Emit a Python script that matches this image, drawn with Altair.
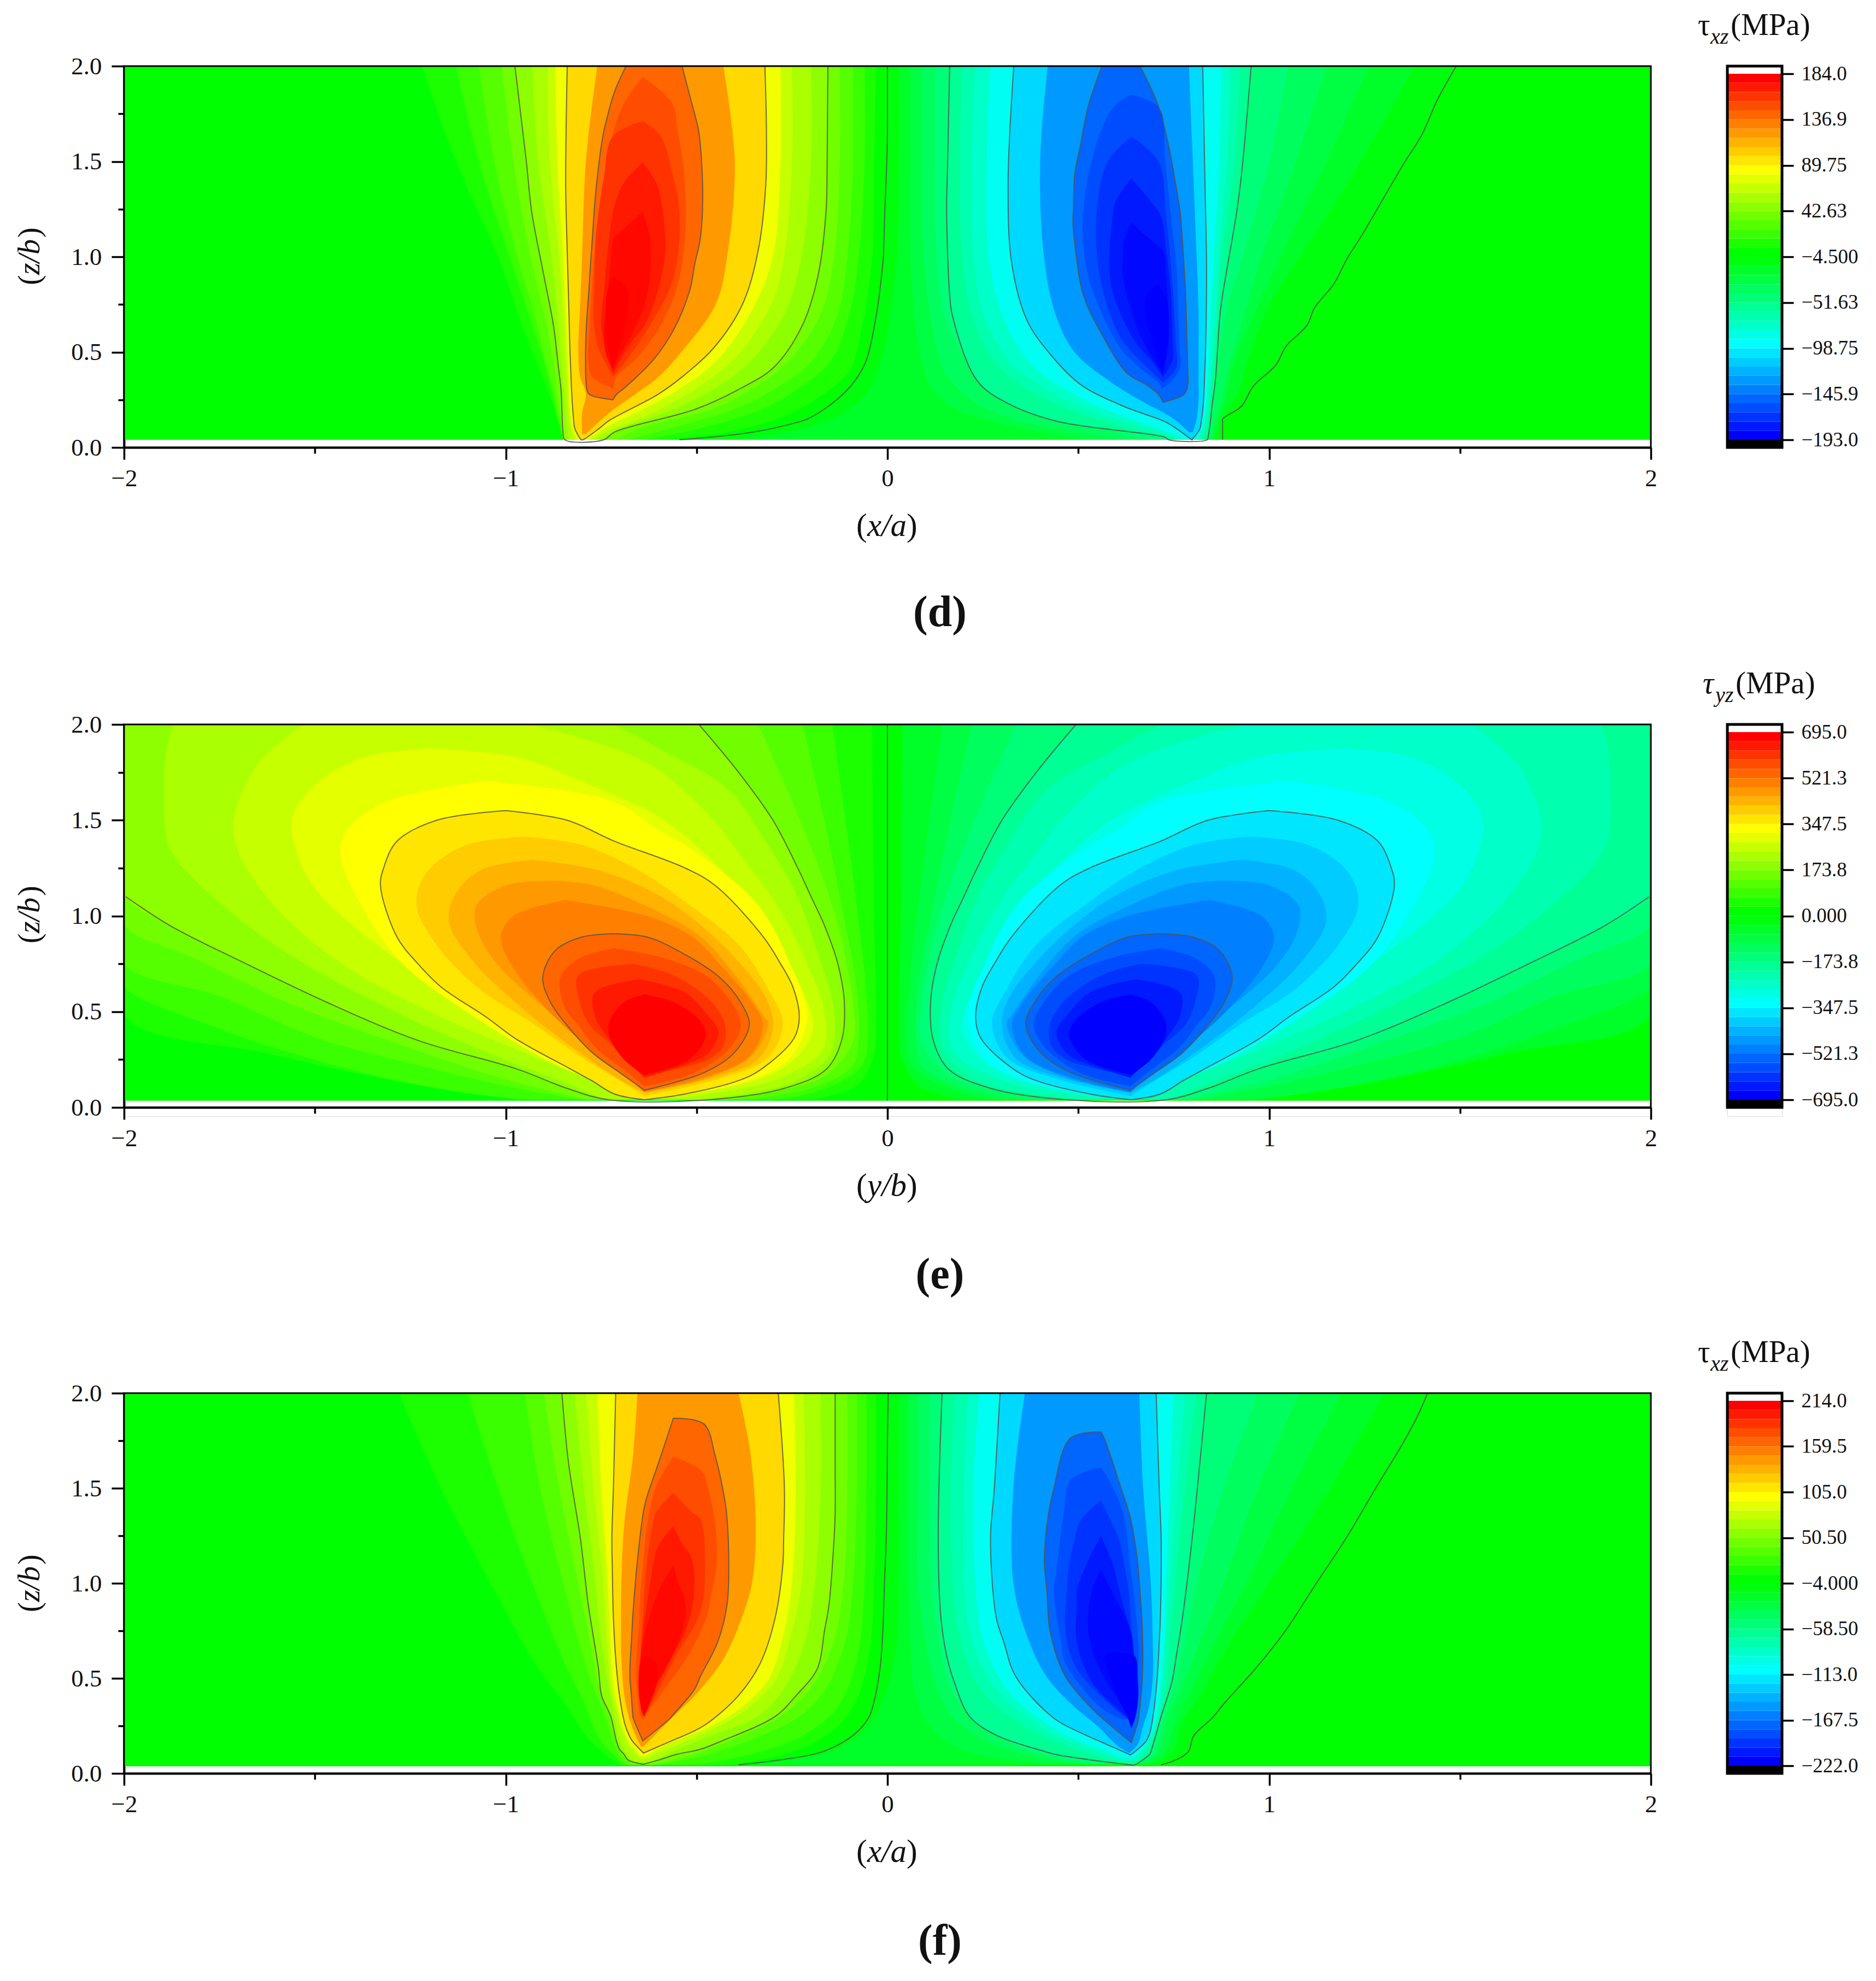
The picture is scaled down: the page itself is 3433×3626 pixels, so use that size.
import altair as alt
import pandas as pd

FONT = "Liberation Serif"

# ---------- tick labels of the three colour bars ----------
d_bar_vals = [184.0, 136.9, 89.75, 42.63, -4.5, -51.63, -98.75, -145.9, -193.0]
d_bar_text = ["184.0", "136.9", "89.75", "42.63", "\u22124.500", "\u221251.63", "\u221298.75", "\u2212145.9", "\u2212193.0"]
e_bar_vals = [695.0, 521.3, 347.5, 173.8, 0.0, -173.8, -347.5, -521.3, -695.0]
e_bar_text = ["695.0", "521.3", "347.5", "173.8", "0.000", "\u2212173.8", "\u2212347.5", "\u2212521.3", "\u2212695.0"]
f_bar_vals = [214.0, 159.5, 105.0, 50.5, -4.0, -58.5, -113.0, -167.5, -222.0]
f_bar_text = ["214.0", "159.5", "105.0", "50.50", "\u22124.000", "\u221258.50", "\u2212113.0", "\u2212167.5", "\u2212222.0"]

x_ticks = [-2, -1.5, -1, -0.5, 0, 0.5, 1, 1.5, 2]
z_ticks = [0, 0.25, 0.5, 0.75, 1, 1.25, 1.5, 1.75, 2]

# ---------- contour rows: (z, left x, right x) ----------
# panel (d), positive lobe
d_p01 = [(2,-1.22,-.03),(1.5,-1.13,-.035),(1,-1.02,-.04),(.6,-.95,-.07),(.4,-.91,-.1),(.25,-.88,-.19),(.15,-.865,-.29),(.08,-.855,-.42),(.04,-.85,-.6)]
d_p02 = [(2,-1.13,-.06),(1.5,-1.07,-.06),(1,-.99,-.075),(.7,-.94,-.1),(.45,-.9,-.15),(.3,-.88,-.24),(.2,-.87,-.33),(.1,-.857,-.49),(.04,-.85,-.64)]
d_p03 = [(2,-1.07,-.09),(1.5,-1.03,-.09),(1,-.97,-.105),(.7,-.925,-.13),(.45,-.895,-.2),(.3,-.875,-.3),(.2,-.865,-.4),(.1,-.855,-.57),(.04,-.85,-.68)]
d_p04 = [(2,-1.01,-.125),(1.5,-.98,-.125),(1,-.935,-.14),(.7,-.9,-.175),(.45,-.875,-.26),(.3,-.865,-.36),(.2,-.858,-.46),(.1,-.853,-.65),(.04,-.848,-.71)]
d_p05 = [(2,-.976,-.156),(1.75,-.961,-.157),(1.5,-.946,-.158),(1.236,-.932,-.161),(.9,-.9,-.182),(.64,-.875,-.223),(.42,-.862,-.298),(.3,-.855,-.394),(.2,-.853,-.504),(.08,-.85,-.716),(.04,-.845,-.743)]
d_p06 = [(2,-.93,-.2),(1.5,-.915,-.2),(1,-.88,-.225),(.7,-.865,-.27),(.45,-.855,-.36),(.3,-.848,-.46),(.2,-.845,-.56),(.1,-.84,-.7),(.04,-.835,-.755)]
d_p07 = [(2,-.89,-.25),(1.5,-.885,-.25),(1,-.86,-.27),(.75,-.852,-.305),(.5,-.845,-.385),(.35,-.84,-.47),(.25,-.838,-.55),(.15,-.834,-.65),(.08,-.828,-.74),(.04,-.82,-.77)]
d_p08 = [(2,-.87,-.28),(1.5,-.865,-.28),(1,-.85,-.3),(.7,-.843,-.36),(.45,-.838,-.45),(.3,-.835,-.55),(.2,-.832,-.64),(.1,-.825,-.74),(.04,-.812,-.785)]
d_p10 = [(2,-.839,-.321),(1.65,-.842,-.317),(1.37,-.843,-.319),(1.03,-.839,-.339),(.75,-.835,-.38),(.52,-.832,-.456),(.37,-.829,-.538),(.28,-.827,-.6),(.14,-.822,-.73),(.1,-.819,-.755),(.04,-.802,-.798)]
d_p12 = [(2,-.76,-.43),(1.5,-.79,-.40),(1,-.80,-.42),(.75,-.805,-.45),(.5,-.81,-.54),(.37,-.805,-.6),(.28,-.79,-.66),(.18,-.8,-.73),(.07,-.8,-.79)]
d_p15 = [(2,-.685,-.538),(1.86,-.716,-.52),(1.71,-.737,-.5),(1.64,-.745,-.493),(1.345,-.764,-.484),(1.1,-.773,-.49),(.96,-.778,-.505),(.83,-.782,-.517),(.625,-.789,-.558),(.46,-.791,-.613),(.31,-.788,-.69),(.278,-.781,-.71),(.25,-.719,-.719)]
d_p16 = [(1.943,-.641,-.641),(1.81,-.689,-.565),(1.67,-.716,-.55),(1.48,-.737,-.535),(1.24,-.757,-.528),(.96,-.77,-.538),(.76,-.777,-.565),(.58,-.782,-.613),(.46,-.784,-.661),(.37,-.774,-.71),(.31,-.719,-.719)]
d_p17 = [(1.712,-.641,-.641),(1.63,-.72,-.593),(1.41,-.743,-.56),(1.3,-.752,-.548),(1.1,-.764,-.545),(.86,-.768,-.565),(.67,-.77,-.613),(.52,-.757,-.661),(.37,-.719,-.719)]
d_p18 = [(1.494,-.641,-.641),(1.39,-.69,-.606),(1.26,-.716,-.59),(1.03,-.733,-.582),(.83,-.742,-.6),(.65,-.75,-.634),(.54,-.742,-.675),(.39,-.719,-.719)]
d_p19 = [(1.236,-.641,-.641),(1.13,-.7,-.624),(1.09,-.719,-.622),(.96,-.725,-.62),(.76,-.736,-.634),(.6,-.743,-.668),(.48,-.736,-.702),(.41,-.719,-.719)]
d_p20 = [(.896,-.719,-.719),(.83,-.733,-.682),(.69,-.738,-.682),(.53,-.733,-.702),(.42,-.719,-.719)]
# panel (d), negative lobe
d_n00 = [(2,0,1.49),(1.82,0,1.44),(1.64,0,1.4),(1.48,-.002,1.35),(1.236,-.007,1.279),(1.1,-.009,1.239),(.99,-.011,1.204),(.856,-.018,1.169),(.733,-.026,1.119),(.64,-.034,1.099),(.53,-.045,1.044),(.434,-.06,1.018),(.32,-.097,.958),(.217,-.154,.928),(.149,-.21,.878),(.135,-.23,.878),(.08,-.353,.878),(.04,-.545,.878)]
d_n01 = [(2,.03,1.38),(1.5,.03,1.24),(1,.025,1.08),(.75,.01,1.0),(.5,-.01,.95),(.3,-.05,.92),(.2,-.1,.89),(.1,-.22,.87),(.04,-.4,.865)]
d_n02 = [(2,.06,1.26),(1.5,.06,1.15),(1,.06,1.03),(.7,.07,.96),(.45,.09,.91),(.3,.12,.89),(.2,.18,.875),(.1,.35,.86),(.04,.52,.855)]
d_n03 = [(2,.09,1.15),(1.5,.09,1.07),(1,.095,.98),(.6,.12,.92),(.4,.15,.89),(.25,.22,.875),(.15,.33,.86),(.08,.5,.85),(.04,.62,.845)]
d_n04 = [(2,.125,1.05),(1.5,.125,1.0),(1,.13,.93),(.7,.15,.885),(.45,.21,.865),(.3,.27,.855),(.2,.36,.85),(.1,.56,.845),(.04,.68,.84)]
d_n05 = [(2,.163,.953),(1.44,.157,.928),(1.236,.155,.915),(.8,.163,.878),(.693,.17,.871),(.35,.235,.859),(.23,.316,.851),(.136,.446,.846),(.054,.727,.84),(.04,.737,.838)]
d_n06 = [(2,.195,.925),(1.5,.19,.91),(1,.195,.875),(.7,.22,.865),(.45,.28,.855),(.3,.37,.848),(.2,.47,.843),(.1,.63,.835),(.04,.755,.825)]
d_n07 = [(2,.23,.9),(1.5,.22,.89),(1,.225,.87),(.7,.25,.86),(.45,.32,.85),(.3,.42,.843),(.2,.52,.838),(.1,.68,.83),(.04,.77,.815)]
d_n08 = [(2,.27,.875),(1.5,.26,.87),(1,.265,.855),(.7,.3,.848),(.45,.37,.842),(.3,.47,.838),(.2,.57,.833),(.1,.71,.825),(.04,.785,.805)]
d_n10 = [(2,.331,.826),(1.37,.316,.832),(.96,.326,.836),(.665,.366,.835),(.49,.426,.833),(.33,.506,.83),(.217,.617,.827),(.135,.727,.822),(.095,.76,.818),(.04,.797,.797)]
d_n12 = [(2,.42,.79),(1.5,.40,.8),(1,.41,.81),(.7,.44,.815),(.5,.49,.815),(.35,.58,.815),(.25,.66,.815),(.15,.75,.81),(.08,.79,.80)]
d_n15 = [(2,.562,.662),(1.79,.526,.71),(1.58,.505,.737),(1.44,.491,.75),(1.236,.487,.767),(1.17,.486,.77),(.856,.506,.78),(.76,.52,.782),(.61,.557,.784),(.39,.627,.787),(.326,.68,.787),(.278,.71,.777),(.237,.722,.722)]
d_n16 = [(1.85,.639,.639),(1.78,.59,.712),(1.51,.536,.727),(1.17,.511,.745),(.96,.52,.757),(.83,.536,.76),(.53,.607,.765),(.42,.66,.767),(.34,.71,.74),(.31,.72,.72)]
d_n17 = [(1.63,.639,.639),(1.5,.577,.71),(1.21,.547,.73),(.9,.556,.745),(.69,.585,.752),(.557,.617,.755),(.42,.68,.757),(.34,.722,.722)]
d_n18 = [(1.41,.639,.639),(1.29,.597,.69),(1.21,.59,.717),(1.03,.582,.73),(.83,.588,.742),(.56,.647,.747),(.46,.69,.747),(.37,.722,.722)]
d_n19 = [(1.18,.639,.639),(1.07,.617,.7),(1.03,.617,.722),(.9,.617,.73),(.665,.647,.737),(.557,.67,.737),(.38,.722,.722)]
d_n20 = [(.856,.707,.707),(.79,.677,.73),(.69,.677,.737),(.52,.7,.732),(.39,.722,.722)]

# panel (e), positive lobe
e_p01 = [(2,-2,-.04),(1,-2,-.035),(.48,-2,-.03),(.28,-1.62,-.035),(.115,-1.23,-.08),(.04,-.97,-.2)]
e_p02 = [(2,-2,-.144),(1.2,-2,-.09),(.7,-2,-.06),(.63,-2,-.058),(.41,-1.75,-.05),(.21,-1.43,-.07),(.074,-1.1,-.2),(.04,-.92,-.3)]
e_p03 = [(2,-2,-.222),(1.5,-2,-.165),(1,-2,-.115),(.75,-2,-.09),(.58,-1.75,-.078),(.36,-1.49,-.075),(.22,-1.23,-.09),(.1,-.97,-.2),(.04,-.8,-.38)]
e_p04 = [(2,-2,-.339),(1.6,-2,-.25),(1.2,-2,-.17),(.955,-2,-.13),(.78,-1.817,-.11),(.535,-1.558,-.09),(.345,-1.3,-.09),(.17,-1.04,-.16),(.08,-.87,-.3),(.04,-.78,-.42)]
e_p05 = [(2,-2,-.494),(1.75,-2,-.39),(1.5,-2,-.30),(1.25,-2,-.235),(1.1,-1.995,-.20),(.95,-1.88,-.165),(.75,-1.68,-.13),(.55,-1.47,-.113),(.35,-1.23,-.12),(.2,-.97,-.16),(.1,-.84,-.27),(.04,-.73,-.47)]
e_p06 = [(2,-1.87,-.715),(1.86,-1.89,-.585),(1.66,-1.895,-.417),(1.36,-1.882,-.31),(1.12,-1.778,-.24),(.82,-1.584,-.185),(.51,-1.3,-.14),(.28,-1.04,-.15),(.13,-.845,-.25),(.04,-.74,-.5)]
e_p07 = [(2,-1.53,-.935),(1.8,-1.648,-.63),(1.5,-1.713,-.455),(1.33,-1.70,-.39),(1.06,-1.61,-.29),(.75,-1.43,-.21),(.5,-1.2,-.165),(.3,-.97,-.17),(.14,-.77,-.3),(.05,-.66,-.55)]
e_p08 = [(1.875,-1.2,-1.2),(1.83,-1.37,-.974),(1.685,-1.5,-.78),(1.5,-1.56,-.585),(1.2,-1.519,-.415),(.95,-1.4,-.313),(.62,-1.17,-.225),(.41,-.99,-.195),(.24,-.82,-.25),(.13,-.74,-.365),(.05,-.66,-.6)]
e_p09 = [(1.705,-1.05,-1.05),(1.6,-1.31,-.72),(1.45,-1.415,-.6),(1.33,-1.434,-.5),(1.06,-1.38,-.34),(.75,-1.27,-.255),(.47,-1.08,-.21),(.25,-.895,-.26),(.13,-.76,-.38),(.05,-.67,-.58)]
e_p10 = [(1.55,-1.0,-1.0),(1.5,-1.18,-.84),(1.39,-1.285,-.715),(1.25,-1.32,-.53),(1.157,-1.328,-.45),(.89,-1.285,-.325),(.75,-1.23,-.28),(.63,-1.17,-.248),(.47,-1.05,-.231),(.36,-.975,-.245),(.2,-.83,-.33),(.14,-.775,-.39),(.07,-.715,-.53),(.04,-.637,-.637)]
e_p11 = [(1.414,-.948,-.948),(1.37,-1.104,-.8),(1.225,-1.208,-.64),(1.06,-1.234,-.52),(.85,-1.182,-.39),(.62,-1.07,-.313),(.44,-.93,-.274),(.26,-.8,-.313),(.156,-.715,-.43),(.06,-.637,-.637)]
e_p12 = [(1.293,-.93,-.93),(1.24,-1.065,-.76),(1.12,-1.13,-.61),(.97,-1.149,-.50),(.75,-1.08,-.385),(.55,-.975,-.313),(.41,-.89,-.30),(.25,-.78,-.34),(.156,-.71,-.456),(.075,-.637,-.637)]
e_p13 = [(1.184,-.87,-.87),(1.16,-1.0,-.77),(1.05,-1.078,-.63),(.9,-1.07,-.494),(.72,-1.01,-.41),(.48,-.87,-.325),(.44,-.84,-.313),(.277,-.75,-.352),(.156,-.68,-.469),(.08,-.637,-.637)]
e_p14 = [(1.083,-.844,-.844),(1.0,-.98,-.63),(.89,-1.013,-.51),(.75,-.987,-.44),(.55,-.91,-.355),(.43,-.85,-.326),(.26,-.75,-.365),(.156,-.68,-.482),(.08,-.637,-.637)]
e_p15 = [(.907,-.722,-.722),(.89,-.80,-.63),(.82,-.87,-.55),(.68,-.903,-.44),(.55,-.883,-.385),(.43,-.84,-.362),(.28,-.77,-.404),(.18,-.70,-.482),(.09,-.637,-.637)]
e_p16 = [(.832,-.715,-.715),(.78,-.806,-.585),(.68,-.857,-.47),(.52,-.845,-.4),(.43,-.81,-.384),(.318,-.767,-.41),(.18,-.68,-.507),(.11,-.637,-.637)]
e_p17 = [(.75,-.663,-.663),(.69,-.81,-.56),(.55,-.806,-.46),(.43,-.78,-.425),(.32,-.72,-.43),(.25,-.69,-.47),(.165,-.637,-.637)]
e_p18 = [(.67,-.65,-.65),(.6,-.767,-.53),(.48,-.767,-.47),(.4,-.745,-.443),(.32,-.715,-.455),(.264,-.69,-.482),(.155,-.637,-.637)]
e_p19 = [(.59,-.637,-.637),(.55,-.69,-.56),(.45,-.728,-.49),(.37,-.728,-.476),(.25,-.69,-.52),(.17,-.637,-.637)]
# panel (e), negative lobe
e_n01 = [(2,.04,2),(1,.035,2),(.48,.03,2),(.28,.035,1.62),(.115,.08,1.23),(.04,.2,.97)]
e_n02 = [(2,.144,2),(1.2,.09,2),(.7,.06,2),(.63,.058,2),(.41,.05,1.75),(.21,.07,1.43),(.074,.2,1.1),(.04,.3,.92)]
e_n03 = [(2,.222,2),(1.5,.165,2),(1,.115,2),(.75,.09,2),(.58,.078,1.75),(.36,.075,1.49),(.22,.09,1.23),(.1,.2,.97),(.04,.38,.8)]
e_n04 = [(2,.339,2),(1.6,.25,2),(1.2,.17,2),(.955,.13,2),(.78,.11,1.817),(.535,.09,1.558),(.345,.09,1.3),(.17,.16,1.04),(.08,.3,.87),(.04,.42,.78)]
e_n05 = [(2,.494,2),(1.75,.39,2),(1.5,.30,2),(1.25,.235,2),(1.1,.20,1.995),(.95,.165,1.88),(.75,.13,1.68),(.55,.113,1.47),(.35,.12,1.23),(.2,.16,.97),(.1,.27,.84),(.04,.47,.73)]
e_n06 = [(2,.715,1.87),(1.86,.585,1.89),(1.66,.417,1.895),(1.36,.31,1.882),(1.12,.24,1.778),(.82,.185,1.584),(.51,.14,1.3),(.28,.15,1.04),(.13,.25,.845),(.04,.5,.74)]
e_n07 = [(2,.935,1.53),(1.8,.63,1.648),(1.5,.455,1.713),(1.33,.39,1.70),(1.06,.29,1.61),(.75,.21,1.43),(.5,.165,1.2),(.3,.17,.97),(.14,.3,.77),(.05,.55,.66)]
e_n08 = [(1.875,1.2,1.2),(1.83,.974,1.37),(1.685,.78,1.5),(1.5,.585,1.56),(1.2,.415,1.519),(.95,.313,1.4),(.62,.225,1.17),(.41,.195,.99),(.24,.25,.82),(.13,.365,.74),(.05,.6,.66)]
e_n09 = [(1.705,1.05,1.05),(1.6,.72,1.31),(1.45,.6,1.415),(1.33,.5,1.434),(1.06,.34,1.38),(.75,.255,1.27),(.47,.21,1.08),(.25,.26,.895),(.13,.38,.76),(.05,.58,.67)]
e_n10 = [(1.55,1.0,1.0),(1.5,.84,1.18),(1.39,.715,1.285),(1.25,.53,1.32),(1.157,.45,1.328),(.89,.325,1.285),(.75,.28,1.23),(.63,.248,1.17),(.47,.231,1.05),(.36,.245,.975),(.2,.33,.83),(.14,.39,.775),(.07,.53,.715),(.04,.637,.637)]
e_n11 = [(1.414,.948,.948),(1.37,.8,1.104),(1.225,.64,1.208),(1.06,.52,1.234),(.85,.39,1.182),(.62,.313,1.07),(.44,.274,.93),(.26,.313,.8),(.156,.43,.715),(.06,.637,.637)]
e_n12 = [(1.293,.93,.93),(1.24,.76,1.065),(1.12,.61,1.13),(.97,.50,1.149),(.75,.385,1.08),(.55,.313,.975),(.41,.30,.89),(.25,.34,.78),(.156,.456,.71),(.075,.637,.637)]
e_n13 = [(1.184,.87,.87),(1.16,.77,1.0),(1.05,.63,1.078),(.9,.494,1.07),(.72,.41,1.01),(.48,.325,.87),(.44,.313,.84),(.277,.352,.75),(.156,.469,.68),(.08,.637,.637)]
e_n14 = [(1.083,.844,.844),(1.0,.63,.98),(.89,.51,1.013),(.75,.44,.987),(.55,.355,.91),(.43,.326,.85),(.26,.365,.75),(.156,.482,.68),(.08,.637,.637)]
e_n15 = [(.907,.722,.722),(.89,.63,.80),(.82,.55,.87),(.68,.44,.903),(.55,.385,.883),(.43,.362,.84),(.28,.404,.77),(.18,.482,.70),(.09,.637,.637)]
e_n16 = [(.832,.715,.715),(.78,.585,.806),(.68,.47,.857),(.52,.4,.845),(.43,.384,.81),(.318,.41,.767),(.18,.507,.68),(.11,.637,.637)]
e_n17 = [(.75,.663,.663),(.69,.56,.81),(.55,.46,.806),(.43,.425,.78),(.32,.43,.72),(.25,.47,.69),(.165,.637,.637)]
e_n18 = [(.67,.65,.65),(.6,.53,.767),(.48,.47,.767),(.4,.443,.745),(.32,.455,.715),(.264,.482,.69),(.155,.637,.637)]
e_n19 = [(.59,.637,.637),(.55,.56,.69),(.45,.49,.728),(.37,.476,.728),(.25,.52,.69),(.17,.637,.637)]
e_zero = [(2,0,0),(.035,0,0)]

# panel (f), positive lobe
f_p01 = [(2,-1.28,-.03),(1.5,-1.17,-.03),(1,-1.04,-.035),(.6,-.93,-.05),(.35,-.84,-.09),(.2,-.79,-.16),(.1,-.74,-.27),(.045,-.7,-.42)]
f_p02 = [(2,-1.1,-.055),(1.5,-1.02,-.055),(1,-.93,-.06),(.6,-.85,-.08),(.35,-.79,-.13),(.2,-.76,-.22),(.1,-.72,-.36),(.045,-.69,-.5)]
f_p03 = [(2,-.95,-.08),(1.5,-.91,-.08),(1,-.85,-.09),(.7,-.81,-.11),(.45,-.77,-.16),(.3,-.74,-.23),(.2,-.725,-.33),(.1,-.705,-.47),(.045,-.68,-.6)]
f_p04 = [(2,-.9,-.105),(1.5,-.86,-.105),(1,-.81,-.115),(.7,-.78,-.14),(.45,-.755,-.2),(.3,-.73,-.28),(.2,-.715,-.38),(.1,-.695,-.51),(.045,-.665,-.62)]
f_p05 = [(2,-.853,-.137),(1.64,-.836,-.137),(1.37,-.815,-.137),(1.23,-.804,-.14),(.89,-.784,-.153),(.75,-.773,-.165),(.55,-.757,-.184),(.41,-.749,-.239),(.3,-.725,-.294),(.17,-.71,-.435),(.127,-.702,-.49),(.1,-.69,-.553),(.07,-.679,-.6),(.048,-.639,-.639)]
f_p06 = [(2,-.82,-.175),(1.5,-.795,-.175),(1,-.765,-.19),(.7,-.75,-.215),(.45,-.73,-.27),(.3,-.715,-.34),(.2,-.705,-.46),(.1,-.683,-.58),(.06,-.66,-.62)]
f_p07 = [(2,-.79,-.22),(1.5,-.77,-.215),(1,-.745,-.225),(.75,-.737,-.25),(.5,-.727,-.29),(.35,-.713,-.36),(.25,-.7,-.44),(.15,-.68,-.55),(.08,-.65,-.63)]
f_p08 = [(2,-.76,-.245),(1.5,-.75,-.24),(1,-.733,-.25),(.75,-.727,-.27),(.5,-.72,-.31),(.35,-.708,-.38),(.25,-.695,-.46),(.15,-.672,-.58),(.09,-.645,-.635)]
f_p10 = [(2,-.712,-.286),(1.5,-.718,-.27),(1.23,-.722,-.272),(1.1,-.721,-.274),(.82,-.718,-.294),(.58,-.711,-.333),(.41,-.702,-.39),(.26,-.688,-.474),(.21,-.679,-.52),(.175,-.67,-.561),(.107,-.639,-.639)]
f_p12 = [(2,-.655,-.39),(1.7,-.665,-.36),(1.3,-.69,-.345),(1,-.697,-.355),(.8,-.698,-.385),(.6,-.697,-.43),(.42,-.69,-.5),(.3,-.678,-.56),(.2,-.66,-.61),(.14,-.645,-.64)]
f_p15 = [(1.868,-.561,-.561),(1.838,-.566,-.481),(1.667,-.594,-.451),(1.449,-.631,-.427),(1.38,-.639,-.422),(1.16,-.653,-.416),(.89,-.665,-.42),(.69,-.671,-.445),(.51,-.675,-.49),(.44,-.672,-.506),(.3,-.667,-.565),(.29,-.666,-.569),(.171,-.641,-.641)]
f_p16 = [(1.667,-.561,-.561),(1.59,-.585,-.486),(1.5,-.608,-.47),(1.29,-.631,-.45),(1.1,-.64,-.447),(.96,-.647,-.46),(.82,-.65,-.474),(.62,-.657,-.522),(.55,-.659,-.545),(.3,-.647,-.635),(.28,-.64,-.64)]
f_p17 = [(1.476,-.561,-.561),(1.37,-.608,-.51),(1.34,-.612,-.49),(1.1,-.631,-.478),(.85,-.64,-.49),(.62,-.647,-.553),(.32,-.64,-.631),(.3,-.636,-.636)]
f_p18 = [(1.3,-.561,-.561),(1.2,-.6,-.535),(1.136,-.61,-.514),(.96,-.625,-.506),(.75,-.64,-.529),(.52,-.647,-.592),(.33,-.645,-.63),(.3,-.637,-.637)]
f_p19 = [(1.095,-.561,-.561),(.99,-.592,-.546),(.93,-.605,-.533),(.82,-.624,-.529),(.63,-.646,-.561),(.41,-.647,-.62),(.34,-.635,-.635)]
f_p20 = [(.62,-.639,-.639),(.58,-.648,-.604),(.45,-.652,-.608),(.36,-.647,-.625),(.3,-.639,-.639)]
# panel (f), negative lobe
f_n00 = [(2,.002,1.415),(1.885,.001,1.39),(1.735,0,1.35),(1.5,-.001,1.279),(1.245,-.003,1.204),(.986,-.008,1.119),(.754,-.012,1.044),(.56,-.019,.968),(.37,-.036,.883),(.29,-.05,.85),(.2,-.09,.803),(.114,-.17,.788),(.072,-.278,.757),(.045,-.39,.717)]
f_n01 = [(2,.03,1.3),(1.5,.03,1.16),(1,.03,1.0),(.7,.025,.9),(.45,0,.83),(.25,-.05,.77),(.12,-.14,.75),(.05,-.33,.7)]
f_n02 = [(2,.055,1.19),(1.5,.055,1.06),(1,.055,.94),(.7,.06,.86),(.45,.07,.8),(.25,.11,.75),(.12,.2,.73),(.05,.42,.68)]
f_n03 = [(2,.08,1.08),(1.5,.08,.97),(1,.08,.88),(.7,.1,.82),(.45,.13,.77),(.3,.17,.735),(.18,.25,.72),(.1,.36,.705),(.05,.52,.66)]
f_n04 = [(2,.11,.97),(1.5,.11,.88),(1,.115,.81),(.7,.135,.78),(.45,.165,.75),(.3,.22,.725),(.18,.3,.71),(.1,.41,.695),(.05,.56,.655)]
f_n05 = [(2,.143,.836),(1.23,.133,.798),(.82,.14,.773),(.62,.155,.757),(.48,.175,.745),(.3,.215,.717),(.2,.286,.703),(.113,.416,.69),(.1,.44,.687),(.045,.637,.647)]
f_n06 = [(2,.175,.81),(1.5,.165,.78),(1,.17,.755),(.7,.19,.74),(.45,.24,.73),(.3,.32,.713),(.2,.4,.7),(.12,.5,.68),(.06,.6,.65)]
f_n07 = [(2,.21,.78),(1.5,.2,.76),(1,.2,.74),(.7,.22,.73),(.45,.28,.72),(.3,.36,.71),(.2,.44,.695),(.12,.54,.67),(.07,.62,.65)]
f_n08 = [(2,.24,.75),(1.5,.225,.74),(1,.23,.73),(.7,.25,.725),(.45,.31,.715),(.3,.39,.705),(.2,.47,.69),(.12,.57,.665),(.08,.62,.645)]
f_n10 = [(2,.295,.704),(1.5,.28,.712),(1.23,.27,.717),(.82,.285,.715),(.69,.305,.712),(.51,.336,.707),(.29,.436,.695),(.21,.51,.687),(.168,.557,.677),(.097,.637,.637)]
f_n12 = [(2,.36,.66),(1.5,.33,.67),(1,.33,.69),(.7,.37,.695),(.5,.42,.695),(.35,.49,.685),(.25,.55,.67),(.15,.6,.655),(.11,.63,.635)]
f_n15 = [(1.797,.559,.559),(1.763,.479,.568),(1.5,.436,.612),(1.34,.42,.637),(1.12,.411,.655),(.95,.418,.662),(.75,.426,.668),(.51,.466,.668),(.32,.546,.66),(.277,.57,.657),(.161,.639,.639)]
f_n16 = [(1.61,.559,.559),(1.545,.481,.58),(1.37,.462,.617),(1.07,.443,.637),(.96,.436,.645),(.69,.455,.657),(.58,.466,.657),(.345,.56,.652),(.28,.62,.62)]
f_n17 = [(1.436,.559,.559),(1.33,.506,.585),(1.23,.49,.607),(1.1,.476,.62),(.96,.47,.632),(.75,.466,.64),(.55,.496,.647),(.32,.607,.647),(.27,.64,.64)]
f_n18 = [(1.25,.559,.559),(1.12,.526,.587),(.96,.496,.608),(.89,.496,.617),(.69,.496,.642),(.48,.536,.645),(.345,.6,.647),(.28,.64,.64)]
f_n19 = [(1.074,.559,.559),(.96,.536,.587),(.75,.526,.637),(.55,.556,.647),(.32,.627,.647),(.27,.64,.64)]
f_n20 = [(.635,.58,.58),(.618,.57,.647),(.5,.585,.655),(.41,.6,.657),(.3,.628,.65),(.236,.639,.639)]


# ---------- colours ----------
def hex_rgb(r, g, b):
    return "#%02x%02x%02x" % (round(r), round(g), round(b))


def pos_color(i):
    if i <= 9:
        return hex_rgb(255 * i / 9, 255, 0)
    return hex_rgb(255, 255 * max(0, 1 - (i - 9) / 10), 0)


def neg_color(j):
    if j <= 9:
        return hex_rgb(0, 255, 255 * min(1, (j + 0.5) / 9.5))
    return hex_rgb(0, 255 * max(0, 1 - (j - 9) / 10), 255)


# ---------- drawing order: (rows, shade) ----------
d_pos = [(d_p01, 1), (d_p02, 2), (d_p03, 3), (d_p04, 4), (d_p05, 5), (d_p06, 6), (d_p07, 7), (d_p08, 8.5), (d_p10, 10.5), (d_p12, 13), (d_p15, 15), (d_p16, 16), (d_p17, 17), (d_p18, 18), (d_p19, 18.7), (d_p20, 19)]
d_neg = [(d_n00, 0), (d_n01, 1), (d_n02, 2), (d_n03, 3), (d_n04, 4), (d_n05, 5), (d_n06, 6), (d_n07, 7), (d_n08, 8.5), (d_n10, 10.5), (d_n12, 13), (d_n15, 15), (d_n16, 16), (d_n17, 17), (d_n18, 18), (d_n19, 18.7), (d_n20, 19)]
e_pos = [(e_p01, 1), (e_p02, 2), (e_p03, 3), (e_p04, 4), (e_p05, 5), (e_p06, 6), (e_p07, 7), (e_p08, 8), (e_p09, 9), (e_p10, 10), (e_p11, 11), (e_p12, 12), (e_p13, 13), (e_p14, 14), (e_p15, 15), (e_p16, 16), (e_p17, 17), (e_p18, 18), (e_p19, 19)]
e_neg = [(e_n01, 1), (e_n02, 2), (e_n03, 3), (e_n04, 4), (e_n05, 5), (e_n06, 6), (e_n07, 7), (e_n08, 8), (e_n09, 9), (e_n10, 10), (e_n11, 11), (e_n12, 12), (e_n13, 13), (e_n14, 14), (e_n15, 15), (e_n16, 16), (e_n17, 17), (e_n18, 18), (e_n19, 19)]
f_pos = [(f_p01, 1), (f_p02, 2), (f_p03, 3), (f_p04, 4), (f_p05, 5), (f_p06, 6), (f_p07, 7), (f_p08, 8.5), (f_p10, 10.5), (f_p12, 13), (f_p15, 15), (f_p16, 16), (f_p17, 17), (f_p18, 18), (f_p19, 18.7), (f_p20, 19)]
f_neg = [(f_n00, 0), (f_n01, 1), (f_n02, 2), (f_n03, 3), (f_n04, 4), (f_n05, 5), (f_n06, 6), (f_n07, 7), (f_n08, 8.5), (f_n10, 10.5), (f_n12, 13), (f_n15, 15), (f_n16, 16), (f_n17, 17), (f_n18, 18), (f_n19, 18.7), (f_n20, 19)]

d_lines = [d_p05, d_p10, d_p15, d_n00, d_n05, d_n10, d_n15]
e_lines = [e_p05, e_p10, e_p15, e_zero, e_n05, e_n10, e_n15]
f_lines = [f_p05, f_p10, f_p15, f_n00, f_n05, f_n10, f_n15]


def fill_table(pos, neg, floor):
    out = []
    gid = 0
    for z, a, b in [(2, -2, 2), (floor, -2, 2)]:
        out.append({"g": gid, "z": z, "xl": a, "xr": b, "c": pos_color(0)})
    for rows, shade in pos:
        gid += 1
        for z, a, b in rows:
            out.append({"g": gid, "z": z, "xl": a, "xr": b, "c": pos_color(shade)})
    for rows, shade in neg:
        gid += 1
        for z, a, b in rows:
            out.append({"g": gid, "z": z, "xl": a, "xr": b, "c": neg_color(shade)})
    return pd.DataFrame(out)


def line_table(lines):
    out = []
    gid = 0
    for rows in lines:
        gid += 1
        seq = 0
        for z, a, b in rows:
            if a > -2:
                out.append({"g": gid, "i": seq, "x": a, "z": z})
                seq += 1
        if rows[-1][2] - rows[-1][1] > 0.3:
            gid += 1
        for z, a, b in reversed(rows):
            if b < 2:
                out.append({"g": gid, "i": seq, "x": b, "z": z})
                seq += 1
    return pd.DataFrame(out)


ONE = alt.Data(values=[{"a": 1}])


def label(text, px, py, size, **kw):
    return alt.Chart(ONE).mark_text(text=text, font=FONT, fontSize=size, color="#111111", **kw).encode(
        x=alt.value(px), y=alt.value(py))


def main_panel(pos, neg, lines, floor, w, h, view_h, xname, tag, tag_dy):
    xs = alt.Scale(domain=[-2, 2], nice=False)
    ys = alt.Scale(domain=[0, 2], nice=False, range=[h, 0])
    common = dict(domainWidth=4, domainColor="black", tickColor="black", tickWidth=3.5, grid=False,
                  labelFont=FONT, labelFontSize=45, labelColor="#111111", labelOverlap=False, title=None)
    xaxis = alt.Axis(values=x_ticks, labelExpr="datum.value % 1 == 0 ? format(datum.value, 'd') : ''",
                     tickSize={"condition": {"test": "datum.value % 1 == 0", "value": 22}, "value": 11},
                     labelPadding=12, labelFlush=False, offset=h - view_h, **common)
    yaxis = alt.Axis(values=z_ticks, labelExpr="datum.value % 0.5 == 0 ? format(datum.value, '.1f') : ''",
                     tickSize={"condition": {"test": "datum.value % 0.5 == 0", "value": 23}, "value": 11},
                     labelPadding=18, labelFlush=False, **common)
    fills = alt.Chart(fill_table(pos, neg, floor)).mark_area(orient="horizontal", interpolate="catmull-rom", clip=True).encode(
        y=alt.Y("z:Q", scale=ys, axis=yaxis),
        x=alt.X("xl:Q", scale=xs, axis=xaxis),
        x2="xr:Q",
        color=alt.Color("c:N", scale=None),
        detail="g:N",
    )
    curves = alt.Chart(line_table(lines)).mark_line(color="#55554a", strokeWidth=2, opacity=0.85, interpolate="catmull-rom", clip=True).encode(
        x=alt.X("x:Q", scale=xs, axis=xaxis),
        y=alt.Y("z:Q", scale=ys, axis=yaxis),
        detail="g:N",
        order="i:Q",
    )
    frame = alt.Chart(ONE).mark_rect(filled=False, stroke="black", strokeWidth=3).encode(
        x=alt.value(0), x2=alt.value(w), y=alt.value(0), y2=alt.value(h))
    txt = [
        label("(", 1340, h + 162, 59, align="left", baseline="alphabetic"),
        label(xname, 1360, h + 162, 59, align="left", baseline="alphabetic", fontStyle="italic"),
        label(")", 1432, h + 162, 59, align="left", baseline="alphabetic"),
        label("(", -155, 401, 56, align="left", baseline="alphabetic", angle=270),
        label("z/b", -155, 382, 56, align="left", baseline="alphabetic", angle=270, fontStyle="italic"),
        label(")", -155, 314, 56, align="left", baseline="alphabetic", angle=270),
        label(tag, 1493, h + tag_dy, 80, align="center", baseline="alphabetic", fontWeight="bold"),
    ]
    return alt.layer(fills, curves, frame, *txt).properties(width=w, height=view_h)


def bar_panel(vals, texts, sub, h, view_h, title_dx, tau_style):
    hi, lo = vals[0], vals[-1]
    extra = (hi - lo) * 14 / (h - 28)
    step = (hi - lo) / 40
    mid = (hi + lo) / 2
    rows = []
    for k in range(20):
        rows.append({"a": mid + k * step, "b": mid + (k + 1) * step, "c": pos_color(k)})
        rows.append({"a": mid - k * step, "b": mid - (k + 1) * step, "c": neg_color(k)})
    rows.append({"a": lo, "b": lo - extra, "c": "#000000"})
    ys = alt.Scale(domain=[lo - extra, hi + extra], nice=False, range=[h, 0])
    lookup = ",".join("'%s':'%s'" % (v if v % 1 else int(v), t) for v, t in zip(vals, texts))
    axis = alt.Axis(values=vals, orient="right", labelExpr="{%s}[datum.value]" % lookup, title=None, grid=False,
                    domain=False, tickSize=21, tickWidth=3.5, tickColor="black", labelPadding=14,
                    labelFont=FONT, labelFontSize=37, labelColor="#111111", labelOverlap=False, labelFlush=False)
    bands = alt.Chart(pd.DataFrame(rows)).mark_rect().encode(
        y=alt.Y("a:Q", scale=ys, axis=axis),
        y2="b:Q",
        x=alt.value(0),
        x2=alt.value(100),
        color=alt.Color("c:N", scale=None),
    )
    frame = alt.Chart(ONE).mark_rect(filled=False, stroke="black", strokeWidth=5).encode(
        x=alt.value(0), x2=alt.value(100), y=alt.value(0), y2=alt.value(h))
    txt = [
        label("\u03c4", -54 + title_dx, -57, 56, align="left", baseline="alphabetic", fontStyle=tau_style),
        label(sub, -31 + title_dx, -41, 40, align="left", baseline="alphabetic", fontStyle="italic"),
        label("(MPa)", 6 + title_dx, -57, 57, align="left", baseline="alphabetic"),
    ]
    return alt.layer(bands, frame, *txt).properties(width=100, height=view_h)


W = 2794
chart = alt.concat(
    main_panel(d_pos, d_neg, d_lines, 0.04, W, 698, 698, "x/a", "(d)", 327),
    bar_panel(d_bar_vals, d_bar_text, "xz", 698, 698, 0, "normal"),
    main_panel(e_pos, e_neg, e_lines, 0.035, W, 701, 717, "y/b", "(e)", 331),
    bar_panel(e_bar_vals, e_bar_text, "yz", 701, 717, 9, "italic"),
    main_panel(f_pos, f_neg, f_lines, 0.037, W, 696, 696, "x/a", "(f)", 332),
    bar_panel(f_bar_vals, f_bar_text, "xz", 696, 696, 0, "normal"),
    columns=2, spacing={"column": 140, "row": 507}, bounds="flush",
).properties(
    padding={"left": 18, "top": 9, "right": 0, "bottom": 0}
).configure_view(strokeWidth=0, stroke="transparent").configure(background="white")

chart.save("out.html", embed_options={"renderer": "svg", "actions": False})
